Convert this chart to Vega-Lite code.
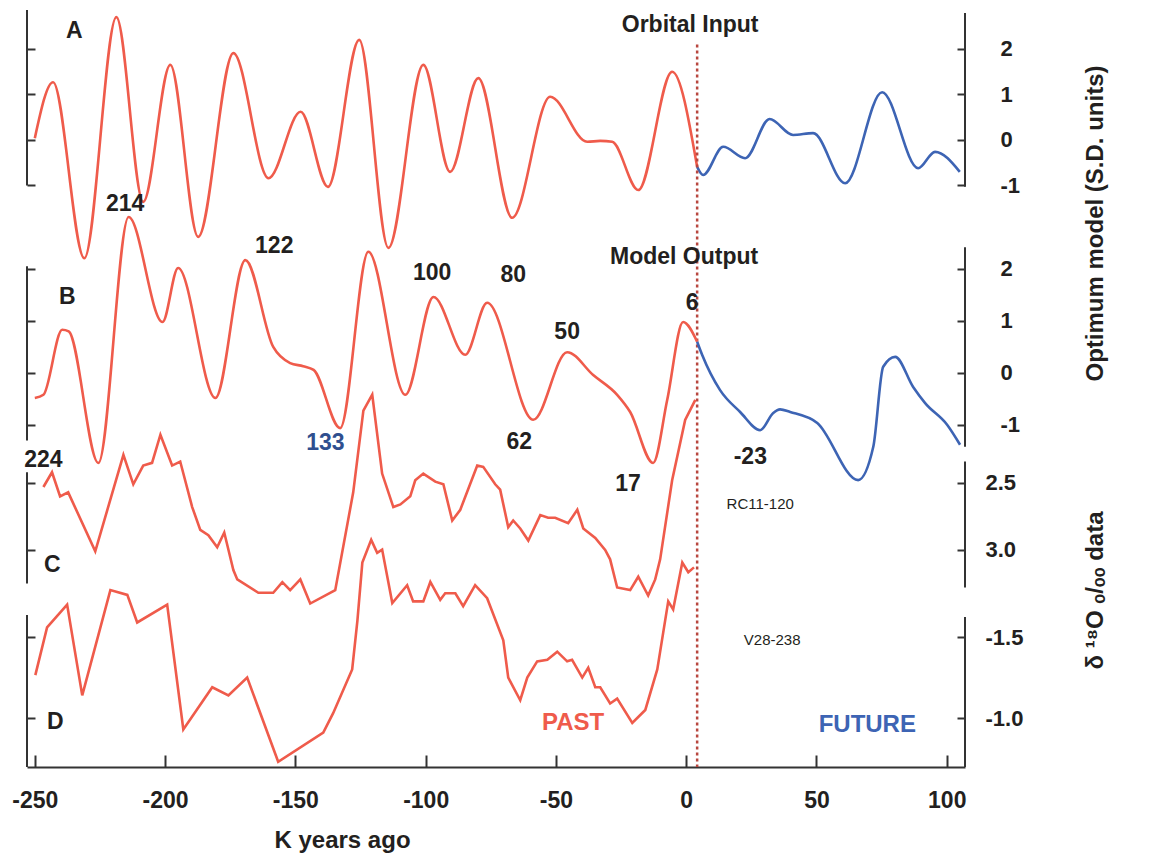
{
  "$schema": "https://vega.github.io/schema/vega-lite/v6.json",
  "width": 938,
  "height": 757,
  "autosize": {"type": "none"},
  "padding": {"left": 27, "top": 10, "right": 187, "bottom": 92},
  "background": "white",
  "config": {
    "view": {"stroke": null},
    "font": "Liberation Sans",
    "axis": {
      "grid": false,
      "domain": false,
      "tickColor": "#333333",
      "tickWidth": 2,
      "labelFont": "Liberation Sans",
      "labelFontWeight": "bold",
      "labelFontSize": 22,
      "labelColor": "#231f20",
      "labelExpr": "replace(datum.label, '\u2212', '-')",
      "titleFont": "Liberation Sans",
      "titleFontWeight": "bold",
      "titleFontSize": 22,
      "titleColor": "#231f20"
    }
  },
  "datasets": {
    "orbital": [
      {"k": -250, "v": 0.04, "period": "past"},
      {"k": -243, "v": 1.27, "period": "past"},
      {"k": -231, "v": -2.6, "period": "past"},
      {"k": -218.7, "v": 2.7, "period": "past"},
      {"k": -208.4, "v": -1.36, "period": "past"},
      {"k": -198, "v": 1.65, "period": "past"},
      {"k": -187.3, "v": -2.13, "period": "past"},
      {"k": -173.8, "v": 1.91, "period": "past"},
      {"k": -160.3, "v": -0.84, "period": "past"},
      {"k": -148, "v": 0.62, "period": "past"},
      {"k": -137.5, "v": -1.03, "period": "past"},
      {"k": -125.5, "v": 2.2, "period": "past"},
      {"k": -114.3, "v": -2.37, "period": "past"},
      {"k": -100.9, "v": 1.65, "period": "past"},
      {"k": -90.6, "v": -0.7, "period": "past"},
      {"k": -79.8, "v": 1.36, "period": "past"},
      {"k": -66.8, "v": -1.71, "period": "past"},
      {"k": -52.2, "v": 0.95, "period": "past"},
      {"k": -38, "v": -0.04, "period": "past"},
      {"k": -33, "v": -0.02, "period": "past"},
      {"k": -28.4, "v": -0.04, "period": "past"},
      {"k": -18.4, "v": -1.1, "period": "past"},
      {"k": -5.4, "v": 1.5, "period": "past"},
      {"k": 4.2, "v": -0.59, "period": "past"},
      {"k": 4.2, "v": -0.59, "period": "future"},
      {"k": 6.5, "v": -0.77, "period": "future"},
      {"k": 14.2, "v": -0.15, "period": "future"},
      {"k": 22.6, "v": -0.4, "period": "future"},
      {"k": 32, "v": 0.46, "period": "future"},
      {"k": 41, "v": 0.11, "period": "future"},
      {"k": 48.7, "v": 0.15, "period": "future"},
      {"k": 61, "v": -0.95, "period": "future"},
      {"k": 75.2, "v": 1.05, "period": "future"},
      {"k": 89, "v": -0.62, "period": "future"},
      {"k": 95.5, "v": -0.26, "period": "future"},
      {"k": 105, "v": -0.7, "period": "future"}
    ],
    "model": [
      {"k": -250, "v": -0.48, "period": "past"},
      {"k": -246.7, "v": -0.42, "period": "past"},
      {"k": -239.5, "v": 0.83, "period": "past"},
      {"k": -237, "v": 0.8, "period": "past"},
      {"k": -225.6, "v": -1.73, "period": "past"},
      {"k": -214, "v": 3.0, "period": "past"},
      {"k": -201, "v": 0.98, "period": "past"},
      {"k": -195, "v": 2.02, "period": "past"},
      {"k": -180.7, "v": -0.48, "period": "past"},
      {"k": -169.2, "v": 2.17, "period": "past"},
      {"k": -158.5, "v": 0.5, "period": "past"},
      {"k": -152, "v": 0.19, "period": "past"},
      {"k": -147, "v": 0.13, "period": "past"},
      {"k": -143, "v": 0.06, "period": "past"},
      {"k": -132.8, "v": -1.06, "period": "past"},
      {"k": -122, "v": 2.33, "period": "past"},
      {"k": -107.8, "v": -0.42, "period": "past"},
      {"k": -97, "v": 1.46, "period": "past"},
      {"k": -84.8, "v": 0.35, "period": "past"},
      {"k": -76.4, "v": 1.35, "period": "past"},
      {"k": -58.7, "v": -0.9, "period": "past"},
      {"k": -45.7, "v": 0.4, "period": "past"},
      {"k": -35.7, "v": -0.04, "period": "past"},
      {"k": -26.5, "v": -0.42, "period": "past"},
      {"k": -21.5, "v": -0.75, "period": "past"},
      {"k": -12.7, "v": -1.73, "period": "past"},
      {"k": -7.3, "v": -0.52, "period": "past"},
      {"k": -1.2, "v": 0.98, "period": "past"},
      {"k": 4.2, "v": 0.6, "period": "past"},
      {"k": 4.2, "v": 0.6, "period": "future"},
      {"k": 6.1, "v": 0.35, "period": "future"},
      {"k": 13, "v": -0.33, "period": "future"},
      {"k": 20.7, "v": -0.75, "period": "future"},
      {"k": 28.4, "v": -1.1, "period": "future"},
      {"k": 33.4, "v": -0.77, "period": "future"},
      {"k": 36, "v": -0.7, "period": "future"},
      {"k": 39.9, "v": -0.75, "period": "future"},
      {"k": 50.3, "v": -0.96, "period": "future"},
      {"k": 66, "v": -2.06, "period": "future"},
      {"k": 71.8, "v": -1.42, "period": "future"},
      {"k": 75.6, "v": 0.12, "period": "future"},
      {"k": 80.2, "v": 0.31, "period": "future"},
      {"k": 87.1, "v": -0.27, "period": "future"},
      {"k": 91.7, "v": -0.58, "period": "future"},
      {"k": 100.2, "v": -1.0, "period": "future"},
      {"k": 105.1, "v": -1.38, "period": "future"}
    ],
    "rc11": [
      {"k": -246.7, "d": 2.53}, {"k": -243.4, "d": 2.42}, {"k": -240.3, "d": 2.6}, {"k": -237.2, "d": 2.57},
      {"k": -226.8, "d": 3.01}, {"k": -216, "d": 2.29}, {"k": -212.2, "d": 2.51}, {"k": -208.4, "d": 2.37},
      {"k": -205, "d": 2.35}, {"k": -201.8, "d": 2.14}, {"k": -197.3, "d": 2.37}, {"k": -194.2, "d": 2.34},
      {"k": -189.6, "d": 2.68}, {"k": -186.5, "d": 2.85}, {"k": -183.4, "d": 2.89}, {"k": -180, "d": 2.98},
      {"k": -177.3, "d": 2.87}, {"k": -173.8, "d": 3.15}, {"k": -172.3, "d": 3.22}, {"k": -164.2, "d": 3.32},
      {"k": -158.5, "d": 3.32}, {"k": -155, "d": 3.24}, {"k": -152, "d": 3.3}, {"k": -148.1, "d": 3.22},
      {"k": -144.3, "d": 3.4}, {"k": -134.7, "d": 3.3}, {"k": -127.8, "d": 2.57}, {"k": -123.9, "d": 1.96},
      {"k": -120.5, "d": 1.84}, {"k": -116.7, "d": 2.43}, {"k": -112.4, "d": 2.68}, {"k": -109.7, "d": 2.66},
      {"k": -105.9, "d": 2.6}, {"k": -104, "d": 2.48}, {"k": -100.9, "d": 2.43}, {"k": -96.3, "d": 2.49},
      {"k": -93.2, "d": 2.51}, {"k": -89.8, "d": 2.78}, {"k": -86.7, "d": 2.7}, {"k": -80.2, "d": 2.37},
      {"k": -77.9, "d": 2.38}, {"k": -73.3, "d": 2.51}, {"k": -71.4, "d": 2.55}, {"k": -68.3, "d": 2.83},
      {"k": -66.4, "d": 2.78}, {"k": -63.7, "d": 2.84}, {"k": -60.6, "d": 2.93}, {"k": -56, "d": 2.74},
      {"k": -53, "d": 2.76}, {"k": -50.3, "d": 2.76}, {"k": -45.3, "d": 2.8}, {"k": -41.8, "d": 2.7},
      {"k": -39.5, "d": 2.84}, {"k": -34.9, "d": 2.91}, {"k": -31.1, "d": 3.0}, {"k": -29.2, "d": 3.07},
      {"k": -26.5, "d": 3.28}, {"k": -21.5, "d": 3.3}, {"k": -18.4, "d": 3.2}, {"k": -14.6, "d": 3.34},
      {"k": -11.9, "d": 3.22}, {"k": -10, "d": 3.07}, {"k": -5.4, "d": 2.48}, {"k": -0.4, "d": 2.03},
      {"k": 3.5, "d": 1.88}
    ],
    "v28": [
      {"k": -249.8, "d": -1.265}, {"k": -245.3, "d": -1.56}, {"k": -237.6, "d": -1.7}, {"k": -231.8, "d": -1.14},
      {"k": -221, "d": -1.79}, {"k": -214.5, "d": -1.76}, {"k": -210.7, "d": -1.59}, {"k": -199.2, "d": -1.7},
      {"k": -193, "d": -0.93}, {"k": -181.9, "d": -1.19}, {"k": -175.7, "d": -1.14}, {"k": -168.5, "d": -1.25},
      {"k": -156.6, "d": -0.73}, {"k": -139.3, "d": -0.91}, {"k": -135.5, "d": -1.03}, {"k": -128.2, "d": -1.3},
      {"k": -126.2, "d": -1.6}, {"k": -124.3, "d": -1.96}, {"k": -120.9, "d": -2.1}, {"k": -118.6, "d": -2.02},
      {"k": -116.7, "d": -2.04}, {"k": -112.8, "d": -1.71}, {"k": -107.1, "d": -1.82}, {"k": -104.8, "d": -1.72},
      {"k": -100.9, "d": -1.72}, {"k": -98.2, "d": -1.84}, {"k": -94.4, "d": -1.73}, {"k": -92.5, "d": -1.77},
      {"k": -88.6, "d": -1.77}, {"k": -85.6, "d": -1.69}, {"k": -81, "d": -1.82}, {"k": -76.4, "d": -1.74},
      {"k": -70.2, "d": -1.48}, {"k": -68.3, "d": -1.25}, {"k": -63.7, "d": -1.11}, {"k": -61, "d": -1.25},
      {"k": -57.2, "d": -1.35}, {"k": -53.3, "d": -1.36}, {"k": -49.5, "d": -1.41}, {"k": -45.7, "d": -1.35},
      {"k": -43.8, "d": -1.36}, {"k": -39.9, "d": -1.25}, {"k": -37.6, "d": -1.31}, {"k": -34.9, "d": -1.19},
      {"k": -33, "d": -1.19}, {"k": -29.2, "d": -1.09}, {"k": -26.5, "d": -1.12}, {"k": -20.7, "d": -0.97},
      {"k": -15.7, "d": -1.05}, {"k": -11.1, "d": -1.3}, {"k": -6.9, "d": -1.72}, {"k": -5, "d": -1.67},
      {"k": -1.5, "d": -1.96}, {"k": 0.8, "d": -1.9}, {"k": 3.0, "d": -1.93}
    ],
    "labA": [
      {"k": -234.8, "v": 2.4, "text": "A"},
      {"k": 1.5, "v": 2.53, "text": "Orbital Input"}
    ],
    "labB": [
      {"k": -237.5, "v": 1.46, "text": "B"},
      {"k": -0.8, "v": 2.23, "text": "Model Output"},
      {"k": -215.3, "v": 3.25, "text": "214"},
      {"k": -158.1, "v": 2.44, "text": "122"},
      {"k": -97.5, "v": 1.92, "text": "100"},
      {"k": -66.4, "v": 1.88, "text": "80"},
      {"k": 2.3, "v": 1.35, "text": "6"},
      {"k": -45.7, "v": 0.79, "text": "50"},
      {"k": -64.1, "v": -1.33, "text": "62"},
      {"k": -246.7, "v": -1.67, "text": "224"},
      {"k": -22.3, "v": -2.13, "text": "17"},
      {"k": 24.6, "v": -1.62, "text": "-23"},
      {"k": -138.5, "v": -1.35, "text": "133"}
    ],
    "labC": [
      {"k": -243.3, "d": 3.11, "text": "C"}
    ],
    "labCsmall": [
      {"k": 28.4, "d": 2.66, "text": "RC11-120"}
    ],
    "labD": [
      {"k": -242.1, "d": -0.975, "text": "D"}
    ],
    "labDsmall": [
      {"k": 33, "d": -1.48, "text": "V28-238"}
    ],
    "era": [
      {"k": -43.4, "d": -0.97, "text": "PAST", "period": "past"},
      {"k": 69.5, "d": -0.96, "text": "FUTURE", "period": "future"}
    ]
  },
  "resolve": {"scale": {"y": "independent"}, "axis": {"y": "independent"}},
  "layer": [
    {
      "resolve": {"scale": {"y": "shared"}, "axis": {"y": "independent"}},
      "layer": [
        {
          "data": {"name": "orbital"},
          "mark": {"type": "line", "interpolate": "monotone", "strokeWidth": 2.6},
          "encoding": {
            "x": {"field": "k", "type": "quantitative", "scale": {"domain": [-253, 107], "nice": false, "zero": false}},
            "y": {"field": "v", "type": "quantitative", "scale": {"domain": [-13.78, 2.857], "nice": false, "zero": false},
                  "axis": {"orient": "left", "values": [-1, 0, 1, 2], "tickSize": -8, "labels": false, "title": null}},
            "color": {"field": "period", "type": "nominal", "scale": {"domain": ["past", "future"], "range": ["#ef5b4b", "#3d64b4"]}, "legend": null}
          }
        },
        {
          "data": {"values": [{}]},
          "mark": {"type": "rule", "color": "#333333", "strokeWidth": 2},
          "encoding": {
            "x": {"datum": -253, "type": "quantitative", "scale": {"domain": [-253, 107], "nice": false, "zero": false}},
            "y": {"datum": -1, "type": "quantitative", "scale": {"domain": [-13.78, 2.857], "nice": false, "zero": false}, "axis": null},
            "y2": {"datum": 2.857}
          }
        },
        {
          "data": {"values": [{}]},
          "mark": {"type": "rule", "color": "#333333", "strokeWidth": 2},
          "encoding": {
            "x": {"datum": 107, "type": "quantitative", "scale": {"domain": [-253, 107], "nice": false, "zero": false}},
            "y": {"datum": -1.03, "type": "quantitative", "scale": {"domain": [-13.78, 2.857], "nice": false, "zero": false},
                  "axis": {"orient": "right", "values": [-1, 0, 1, 2], "tickSize": -8, "labelPadding": 43, "labelAlign": "left",
                           "title": "Optimum model (S.D. units)", "titleFontSize": 24, "titleAngle": 270, "titleX": 130, "titleY": 213, "titleBaseline": "middle", "titleAlign": "center"}},
            "y2": {"datum": 2.79}
          }
        },
        {
          "data": {"values": [{}]},
          "mark": {"type": "rule", "color": "#b8473f", "strokeWidth": 2.5, "strokeDash": [3, 3]},
          "encoding": {
            "x": {"datum": 4.2, "type": "quantitative", "scale": {"domain": [-253, 107], "nice": false, "zero": false}},
            "y": {"datum": 2.1, "type": "quantitative", "scale": {"domain": [-13.78, 2.857], "nice": false, "zero": false}, "axis": null},
            "y2": {"datum": -13.78}
          }
        },
        {
          "data": {"name": "labA"},
          "mark": {"type": "text", "font": "Liberation Sans", "fontWeight": "bold", "fontSize": 23, "color": "#231f20", "align": "center", "baseline": "middle"},
          "encoding": {
            "x": {"field": "k", "type": "quantitative", "scale": {"domain": [-253, 107], "nice": false, "zero": false}},
            "y": {"field": "v", "type": "quantitative", "scale": {"domain": [-13.78, 2.857], "nice": false, "zero": false}, "axis": null},
            "text": {"field": "text"}
          }
        }
      ]
    },
    {
      "resolve": {"scale": {"y": "shared"}, "axis": {"y": "independent"}},
      "layer": [
        {
          "data": {"name": "model"},
          "mark": {"type": "line", "interpolate": "monotone", "strokeWidth": 2.6},
          "encoding": {
            "x": {"field": "k", "type": "quantitative", "scale": {"domain": [-253, 107], "nice": false, "zero": false}},
            "y": {"field": "v", "type": "quantitative", "scale": {"domain": [-7.577, 6.98], "nice": false, "zero": false},
                  "axis": {"orient": "left", "values": [-1, 0, 1, 2], "tickSize": -8, "labels": false, "title": null}},
            "color": {"field": "period", "type": "nominal", "scale": {"domain": ["past", "future"], "range": ["#ef5b4b", "#3d64b4"]}, "legend": null}
          }
        },
        {
          "data": {"values": [{}]},
          "mark": {"type": "rule", "color": "#333333", "strokeWidth": 2},
          "encoding": {
            "x": {"datum": -253, "type": "quantitative", "scale": {"domain": [-253, 107], "nice": false, "zero": false}},
            "y": {"datum": -1.3, "type": "quantitative", "scale": {"domain": [-7.577, 6.98], "nice": false, "zero": false}, "axis": null},
            "y2": {"datum": 2.05}
          }
        },
        {
          "data": {"values": [{}]},
          "mark": {"type": "rule", "color": "#333333", "strokeWidth": 2},
          "encoding": {
            "x": {"datum": 107, "type": "quantitative", "scale": {"domain": [-253, 107], "nice": false, "zero": false}},
            "y": {"datum": -1.42, "type": "quantitative", "scale": {"domain": [-7.577, 6.98], "nice": false, "zero": false},
                  "axis": {"orient": "right", "values": [-1, 0, 1, 2], "tickSize": -8, "labelPadding": 43, "labelAlign": "left", "title": null}},
            "y2": {"datum": 2.42}
          }
        },
        {
          "data": {"name": "labB"},
          "transform": [{"filter": "datum.text !== '133'"}],
          "mark": {"type": "text", "font": "Liberation Sans", "fontWeight": "bold", "fontSize": 23, "color": "#231f20", "align": "center", "baseline": "middle"},
          "encoding": {
            "x": {"field": "k", "type": "quantitative", "scale": {"domain": [-253, 107], "nice": false, "zero": false}},
            "y": {"field": "v", "type": "quantitative", "scale": {"domain": [-7.577, 6.98], "nice": false, "zero": false}, "axis": null},
            "text": {"field": "text"}
          }
        },
        {
          "data": {"name": "labB"},
          "transform": [{"filter": "datum.text === '133'"}],
          "mark": {"type": "text", "font": "Liberation Sans", "fontWeight": "bold", "fontSize": 23, "color": "#2f4f8f", "align": "center", "baseline": "middle"},
          "encoding": {
            "x": {"field": "k", "type": "quantitative", "scale": {"domain": [-253, 107], "nice": false, "zero": false}},
            "y": {"field": "v", "type": "quantitative", "scale": {"domain": [-7.577, 6.98], "nice": false, "zero": false}, "axis": null},
            "text": {"field": "text"}
          }
        }
      ]
    },
    {
      "resolve": {"scale": {"y": "shared"}, "axis": {"y": "independent"}},
      "layer": [
        {
          "data": {"name": "rc11"},
          "mark": {"type": "line", "strokeWidth": 2.6, "color": "#ef5b4b"},
          "encoding": {
            "x": {"field": "k", "type": "quantitative", "scale": {"domain": [-253, 107], "nice": false, "zero": false}},
            "y": {"field": "d", "type": "quantitative", "scale": {"domain": [-1.03, 4.62], "reverse": true, "nice": false, "zero": false},
                  "axis": {"orient": "left", "values": [2.5, 3.0], "tickSize": -8, "labels": false, "title": null}}
          }
        },
        {
          "data": {"values": [{}]},
          "mark": {"type": "rule", "color": "#333333", "strokeWidth": 2},
          "encoding": {
            "x": {"datum": -253, "type": "quantitative", "scale": {"domain": [-253, 107], "nice": false, "zero": false}},
            "y": {"datum": 2.42, "type": "quantitative", "scale": {"domain": [-1.03, 4.62], "reverse": true, "nice": false, "zero": false}, "axis": null},
            "y2": {"datum": 3.25}
          }
        },
        {
          "data": {"values": [{}]},
          "mark": {"type": "rule", "color": "#333333", "strokeWidth": 2},
          "encoding": {
            "x": {"datum": 107, "type": "quantitative", "scale": {"domain": [-253, 107], "nice": false, "zero": false}},
            "y": {"datum": 2.34, "type": "quantitative", "scale": {"domain": [-1.03, 4.62], "reverse": true, "nice": false, "zero": false},
                  "axis": {"orient": "right", "values": [2.5, 3.0], "format": ".1f", "tickSize": -8, "labelPadding": 28, "labelAlign": "left",
                           "title": "δ ¹⁸O ₒ/ₒₒ data", "titleFontSize": 24, "titleAngle": 270, "titleX": 130, "titleY": 580, "titleBaseline": "middle", "titleAlign": "center"}},
            "y2": {"datum": 3.28}
          }
        },
        {
          "data": {"name": "labC"},
          "mark": {"type": "text", "font": "Liberation Sans", "fontWeight": "bold", "fontSize": 23, "color": "#231f20", "align": "center", "baseline": "middle"},
          "encoding": {
            "x": {"field": "k", "type": "quantitative", "scale": {"domain": [-253, 107], "nice": false, "zero": false}},
            "y": {"field": "d", "type": "quantitative", "scale": {"domain": [-1.03, 4.62], "reverse": true, "nice": false, "zero": false}, "axis": null},
            "text": {"field": "text"}
          }
        },
        {
          "data": {"name": "labCsmall"},
          "mark": {"type": "text", "font": "Liberation Sans", "fontSize": 15, "color": "#231f20", "align": "center", "baseline": "middle"},
          "encoding": {
            "x": {"field": "k", "type": "quantitative", "scale": {"domain": [-253, 107], "nice": false, "zero": false}},
            "y": {"field": "d", "type": "quantitative", "scale": {"domain": [-1.03, 4.62], "reverse": true, "nice": false, "zero": false}, "axis": null},
            "text": {"field": "text"}
          }
        }
      ]
    },
    {
      "resolve": {"scale": {"y": "shared"}, "axis": {"y": "independent"}},
      "layer": [
        {
          "data": {"name": "v28"},
          "mark": {"type": "line", "strokeWidth": 2.6, "color": "#ef5b4b"},
          "encoding": {
            "x": {"field": "k", "type": "quantitative", "scale": {"domain": [-253, 107], "nice": false, "zero": false},
                  "axis": {"orient": "bottom", "values": [-250, -200, -150, -100, -50, 0, 50, 100], "domain": true, "domainColor": "#333333", "domainWidth": 2,
                           "tickSize": -12, "labelPadding": 34, "labelFlush": false, "labelFontSize": 23,
                           "title": "K years ago", "titleX": 315, "titleY": 73, "titleBaseline": "middle", "titleAlign": "center", "titleFontSize": 24}},
            "y": {"field": "d", "type": "quantitative", "scale": {"domain": [-5.37, -0.698], "reverse": true, "nice": false, "zero": false},
                  "axis": {"orient": "left", "values": [-1.5, -1.0], "tickSize": -8, "labels": false, "title": null}}
          }
        },
        {
          "data": {"values": [{}]},
          "mark": {"type": "rule", "color": "#333333", "strokeWidth": 2},
          "encoding": {
            "x": {"datum": -253, "type": "quantitative", "scale": {"domain": [-253, 107], "nice": false, "zero": false}},
            "y": {"datum": -1.636, "type": "quantitative", "scale": {"domain": [-5.37, -0.698], "reverse": true, "nice": false, "zero": false}, "axis": null},
            "y2": {"datum": -0.698}
          }
        },
        {
          "data": {"values": [{}]},
          "mark": {"type": "rule", "color": "#333333", "strokeWidth": 2},
          "encoding": {
            "x": {"datum": 107, "type": "quantitative", "scale": {"domain": [-253, 107], "nice": false, "zero": false}},
            "y": {"datum": -1.623, "type": "quantitative", "scale": {"domain": [-5.37, -0.698], "reverse": true, "nice": false, "zero": false},
                  "axis": {"orient": "right", "values": [-1.5, -1.0], "format": ".1f", "tickSize": -8, "labelPadding": 28, "labelAlign": "left", "title": null}},
            "y2": {"datum": -0.698}
          }
        },
        {
          "data": {"name": "labD"},
          "mark": {"type": "text", "font": "Liberation Sans", "fontWeight": "bold", "fontSize": 23, "color": "#231f20", "align": "center", "baseline": "middle"},
          "encoding": {
            "x": {"field": "k", "type": "quantitative", "scale": {"domain": [-253, 107], "nice": false, "zero": false}},
            "y": {"field": "d", "type": "quantitative", "scale": {"domain": [-5.37, -0.698], "reverse": true, "nice": false, "zero": false}, "axis": null},
            "text": {"field": "text"}
          }
        },
        {
          "data": {"name": "labDsmall"},
          "mark": {"type": "text", "font": "Liberation Sans", "fontSize": 15, "color": "#231f20", "align": "center", "baseline": "middle"},
          "encoding": {
            "x": {"field": "k", "type": "quantitative", "scale": {"domain": [-253, 107], "nice": false, "zero": false}},
            "y": {"field": "d", "type": "quantitative", "scale": {"domain": [-5.37, -0.698], "reverse": true, "nice": false, "zero": false}, "axis": null},
            "text": {"field": "text"}
          }
        },
        {
          "data": {"name": "era"},
          "mark": {"type": "text", "font": "Liberation Sans", "fontWeight": "bold", "fontSize": 24, "align": "center", "baseline": "middle"},
          "encoding": {
            "x": {"field": "k", "type": "quantitative", "scale": {"domain": [-253, 107], "nice": false, "zero": false}},
            "y": {"field": "d", "type": "quantitative", "scale": {"domain": [-5.37, -0.698], "reverse": true, "nice": false, "zero": false}, "axis": null},
            "text": {"field": "text"},
            "color": {"field": "period", "type": "nominal", "scale": {"domain": ["past", "future"], "range": ["#ef5b4b", "#3d64b4"]}, "legend": null}
          }
        }
      ]
    }
  ]
}
